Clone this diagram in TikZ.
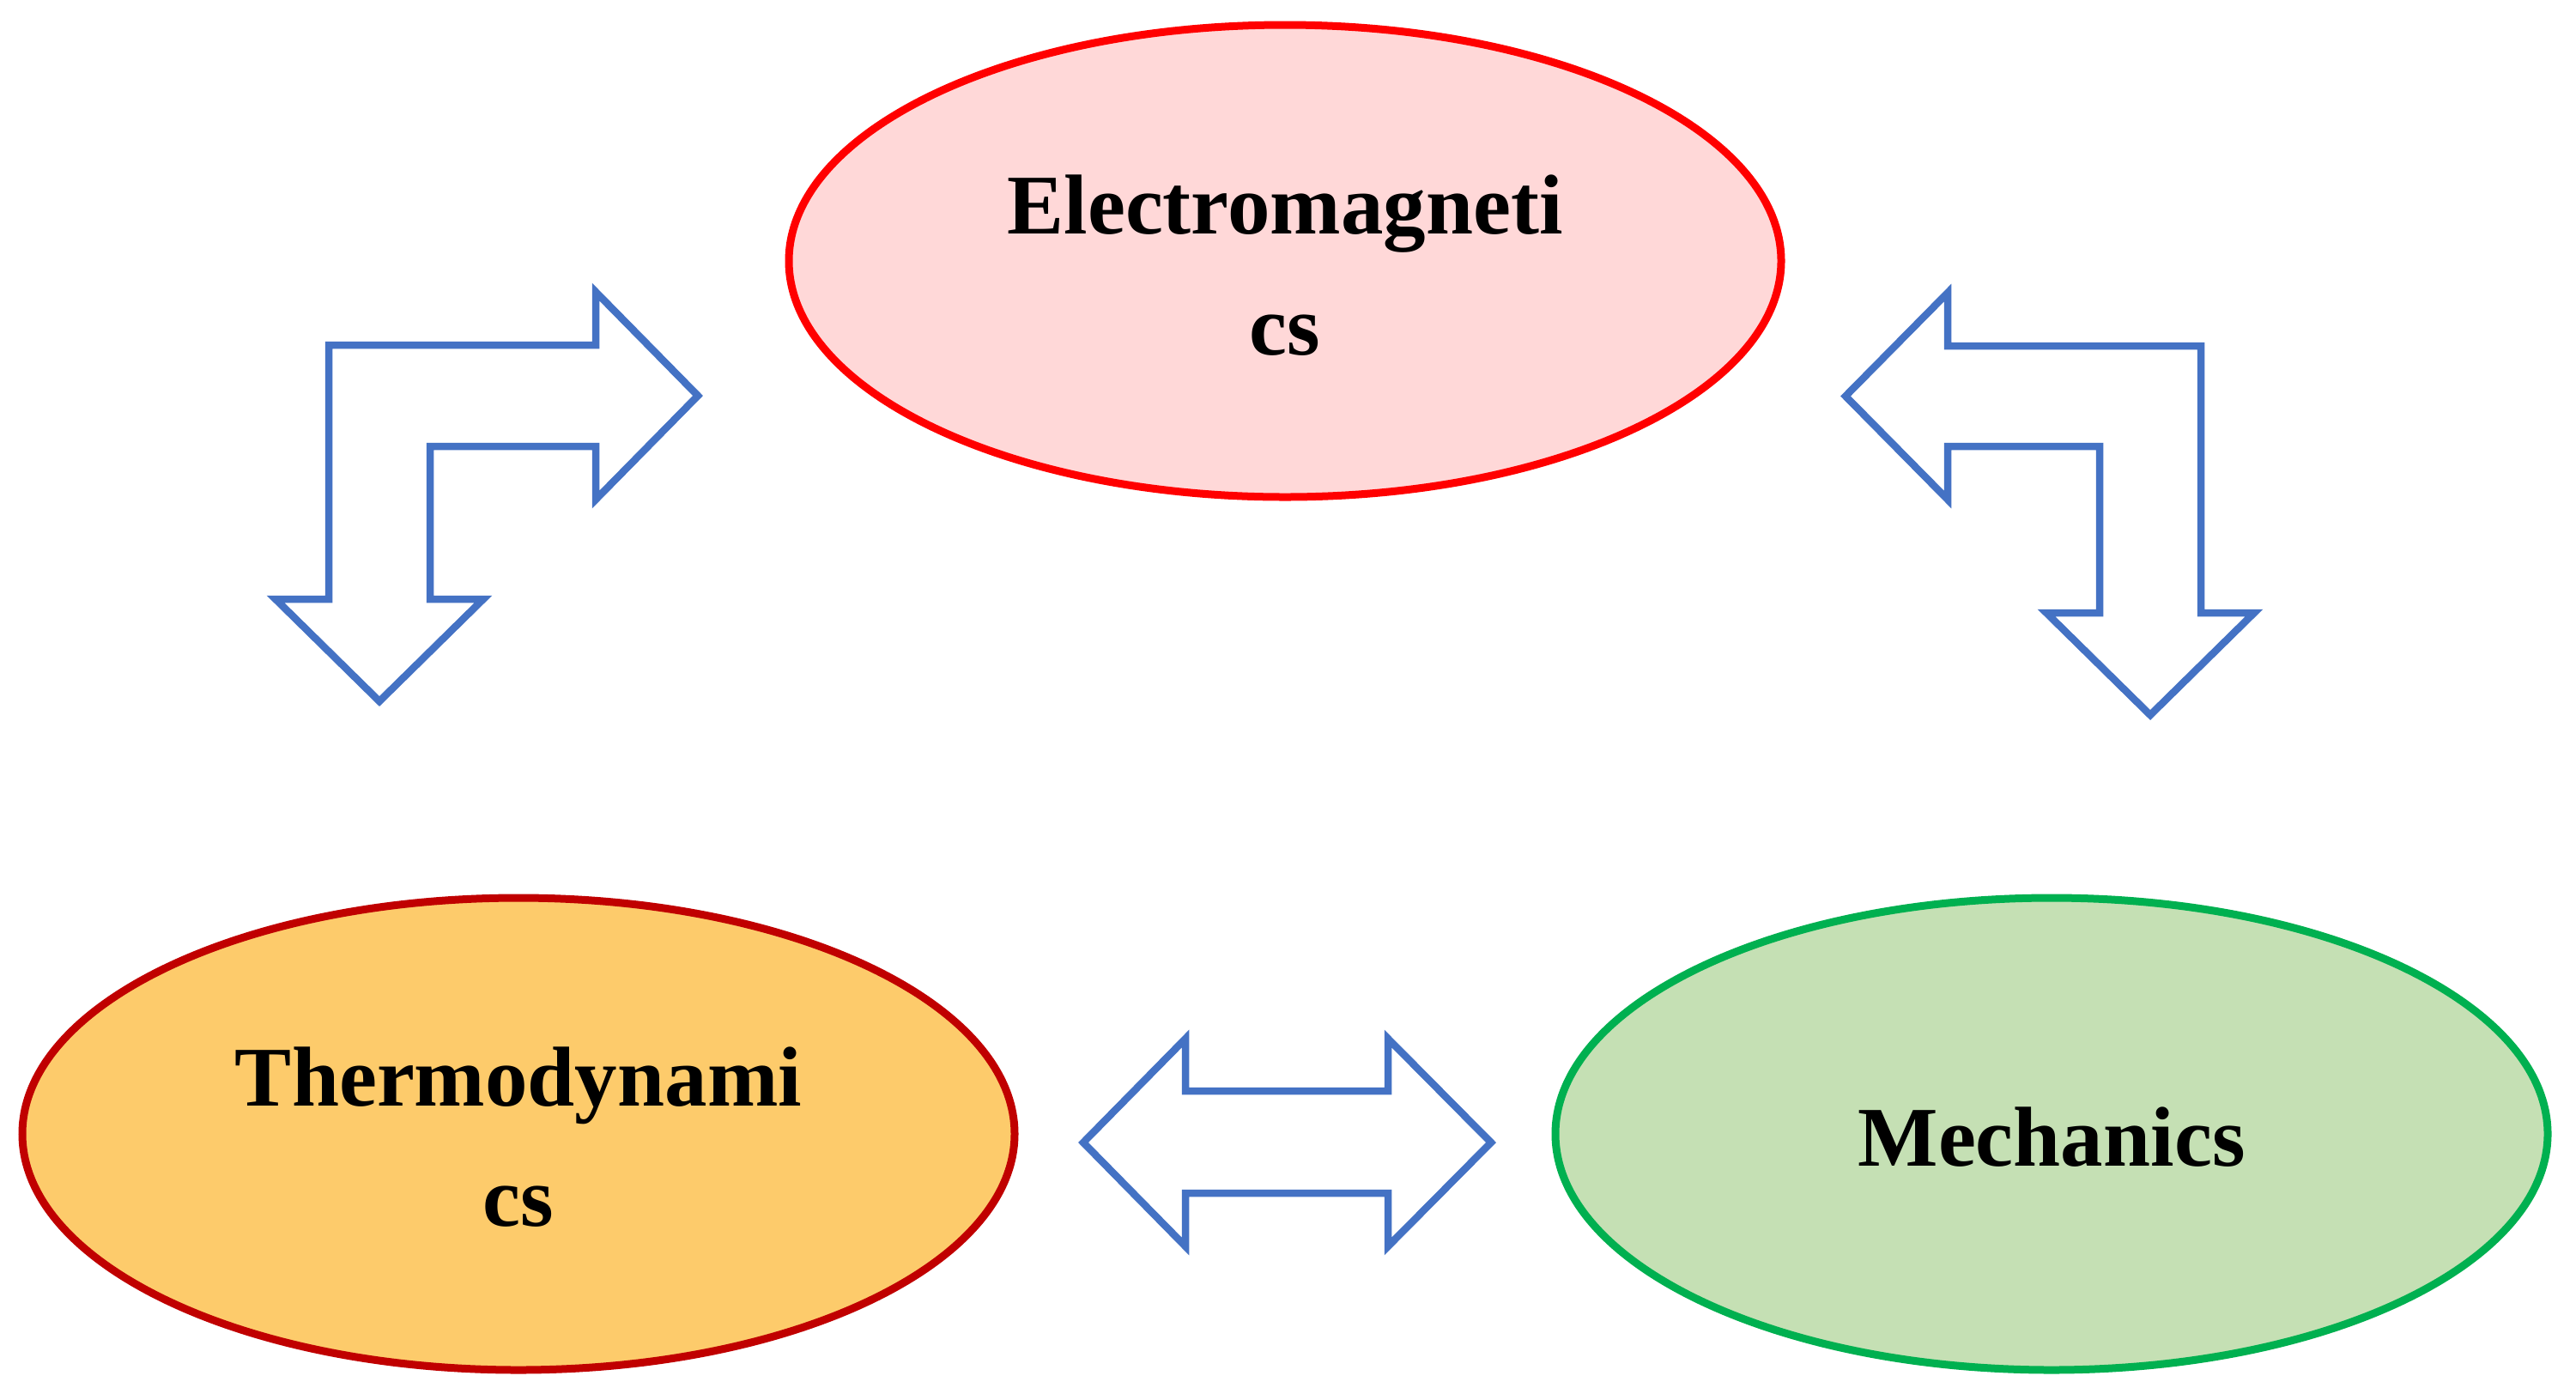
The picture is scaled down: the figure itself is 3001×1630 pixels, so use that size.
\documentclass[tikz,border=0pt]{standalone}
\usepackage{fontspec}
\setmainfont{Liberation Serif}
\usetikzlibrary{shapes.geometric}
\definecolor{emfill}{HTML}{FFD8D8}
\definecolor{emline}{HTML}{FF0000}
\definecolor{thfill}{HTML}{FDCB6B}
\definecolor{thline}{HTML}{C00000}
\definecolor{mefill}{HTML}{C5E0B4}
\definecolor{meline}{HTML}{00B050}
\definecolor{arrowblue}{HTML}{4472C4}
\tikzset{
  field/.style={ellipse, line width=4.5pt, minimum width=578pt, minimum height=275pt, inner sep=0pt},
  lbl/.style={anchor=base, inner sep=0pt, font=\fontsize{49.5}{60}\selectfont\bfseries},
  blockarrow/.style={draw=arrowblue, line width=4.25pt, fill=white, line join=miter}
}
\begin{document}
\begin{tikzpicture}[x=0.5pt, y=-0.5pt]
\useasboundingbox (0,0) rectangle (3001,1630);
% ellipses
\node[field, draw=emline, fill=emfill] (em) at (1497,304) {};
\node[field, draw=thline, fill=thfill] (th) at (604,1321) {};
\node[field, draw=meline, fill=mefill] (me) at (2390,1321) {};
% labels
\node[lbl] (emA) at (1497,272) {Electromagneti};
\node[lbl] (emB) at (1497,413) {cs};
\node[lbl] (thA) at (604,1288) {Thermodynami};
\node[lbl] (thB) at (604,1428) {cs};
\node[lbl] (meA) at (2390,1358) {Mechanics};
% left bent arrow
\draw[blockarrow] (383,402) -- (694,402) -- (694,340) -- (813,461) -- (694,582) -- (694,520)
  -- (501,520) -- (501,698) -- (563,698) -- (442,817) -- (321,698) -- (383,698) -- cycle;
% right bent arrow
\draw[blockarrow] (2564,403) -- (2269,403) -- (2269,341) -- (2150,461.5) -- (2269,582) -- (2269,520)
  -- (2446,520) -- (2446,714) -- (2384,714) -- (2505,833) -- (2626,714) -- (2564,714) -- cycle;
% horizontal double arrow
\draw[blockarrow] (1381,1271) -- (1617,1271) -- (1617,1210) -- (1737,1331) -- (1617,1452) -- (1617,1390)
  -- (1381,1390) -- (1381,1452) -- (1262,1331) -- (1381,1210) -- cycle;
\end{tikzpicture}
\end{document}
